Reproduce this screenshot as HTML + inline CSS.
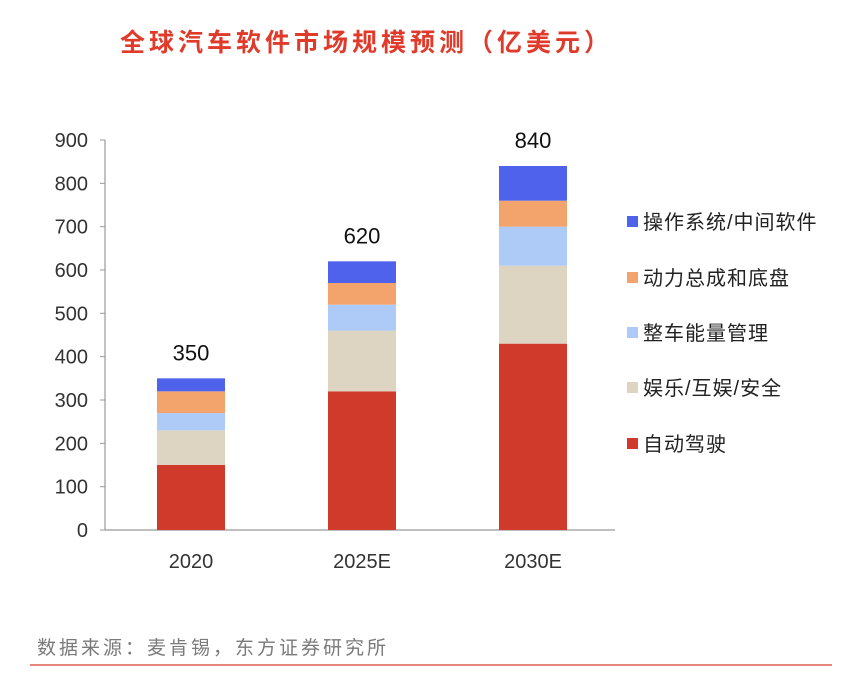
<!DOCTYPE html>
<html><head><meta charset="utf-8"><style>
body{margin:0;background:#fff;width:848px;height:682px;overflow:hidden;font-family:"Liberation Sans","Noto Sans CJK SC",sans-serif}
svg text{font-family:"Liberation Sans","Noto Sans CJK SC",sans-serif}
</style></head><body>
<svg width="848" height="682">
<text x="120" y="51" font-size="25" font-weight="bold" letter-spacing="4" fill="#e03a2a">全球汽车软件市场规模预测（亿美元）</text>
<g id="plot"></g>
<text x="37" y="654" font-size="19" letter-spacing="3" fill="#7a7a7a">数据来源：麦肯锡，东方证券研究所</text>
<line x1="30" y1="665" x2="832" y2="665" stroke="#e06050" stroke-width="1.5"/>
</svg>
<script>
const categories=["2020","2025E","2030E"];
const seriesNames=["自动驾驶","娱乐/互娱/安全","整车能量管理","动力总成和底盘","操作系统/中间软件"];
const autonomous=[150,320,430];
const entertainment=[80,140,180];
const energy=[40,60,90];
const powertrain=[50,50,60];
const osMiddleware=[30,50,80];
const totals=[350,620,840];
const yTicks=[0,100,200,300,400,500,600,700,800,900];
const colors=["#d03a2b","#ddd5c2","#aecaf6","#f2a46c","#4f62ec"];
const series=[autonomous,entertainment,energy,powertrain,osMiddleware];
const NS="http://www.w3.org/2000/svg";
const g=document.getElementById("plot");
const y0=530,y1=140,vmax=900,x0=105;
const y=v=>y0-(v/vmax)*(y0-y1);
const xc=i=>191+i*171;
function el(t,a){const e=document.createElementNS(NS,t);for(const k in a)e.setAttribute(k,a[k]);g.appendChild(e);return e;}
let ax=el("line",{x1:x0,y1:y1,x2:x0,y2:y0,stroke:"#999","stroke-width":1.2});


let xa=el("line",{x1:x0,y1:y0,x2:615,y2:y0,stroke:"#999","stroke-width":1.2});


yTicks.forEach(t=>{
 const tk=el("line",{x1:x0-5,y1:y(t),x2:x0,y2:y(t),stroke:"#999"});
 
 
 const tx=el("text",{x:88,y:y(t)+7,"text-anchor":"end","font-size":20,fill:"#333"});
 tx.textContent=t;
 
 
});
categories.forEach((c,i)=>{
 let acc=0;
 series.forEach((s,j)=>{
  const r=el("rect",{x:xc(i)-34,y:y(acc+s[i]),width:68,height:y(acc)-y(acc+s[i]),fill:colors[j]});
  
  
  acc+=s[i];
 });
 const lbl=el("text",{x:xc(i),y:y(totals[i])-18,"text-anchor":"middle","font-size":22,fill:"#111"});
 lbl.textContent=totals[i];
 
 
 const cl=el("text",{x:xc(i),y:568,"text-anchor":"middle","font-size":20,fill:"#333"});
 cl.textContent=c;
 
 
});
const ly=[444,388,333,278,222];
seriesNames.forEach((n,j)=>{
 const sq=el("rect",{x:627,y:ly[j]-6,width:11,height:11,fill:colors[j]});
 
 
 const t=el("text",{x:643,y:ly[j]+7,"font-size":20,"letter-spacing":1,fill:"#222"});
 t.textContent=n;
 
 
});
</script>
</body></html>
